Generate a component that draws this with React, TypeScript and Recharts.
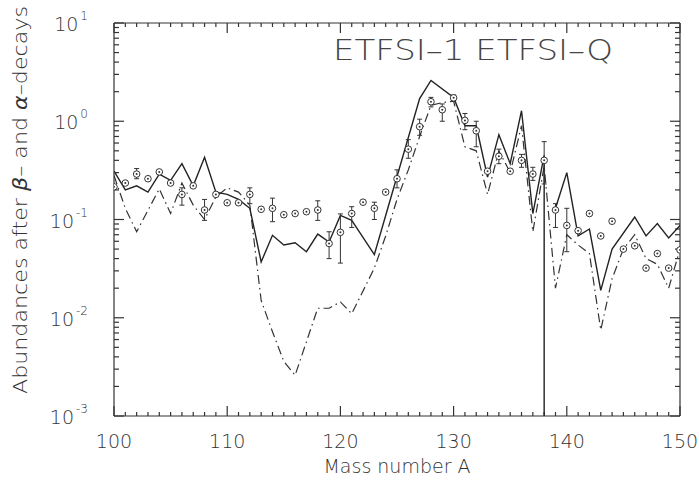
import React from 'react';
import { ComposedChart, Line, XAxis, YAxis, ReferenceLine } from 'recharts';

// ETFSI-1 (solid)
const solidA = [100,101,102,103,104,105,106,107,108,109,110,111,112,113,114,115,116,117,118,119,120,121,123,127,128,130,131,132,133,134,135,136,137,138,138,138,139,140,141,142,143,144,146,147,148,149,150];
const solidV = [0.31,0.20,0.22,0.19,0.29,0.25,0.37,0.22,0.43,0.19,0.18,0.16,0.13,0.037,0.069,0.055,0.058,0.047,0.071,0.059,0.11,0.098,0.044,1.7,2.6,1.75,0.9,0.9,0.27,0.73,0.37,1.28,0.115,0.45,0.001,null,0.13,0.30,0.068,0.08,0.019,0.05,0.106,0.068,0.091,0.065,0.087];

// ETFSI-Q (dash-dot)
const qA = [100,101,102,104,105,106,107,108,109,110,111,112,113,114,115,116,118,119,120,121,123,124,125,126,127,128,129,130,131,132,133,134,135,136,137,138,139,140,141,142,143,144,145,146,147,148,149,150];
const qV = [0.28,0.13,0.075,0.205,0.115,0.235,0.14,0.10,0.17,0.21,0.19,0.14,0.015,0.0072,0.0036,0.0026,0.0125,0.0125,0.0145,0.011,0.032,0.068,0.16,0.32,0.70,1.45,1.55,1.6,0.55,0.5,0.18,0.5,0.3,0.9,0.075,0.35,0.02,0.07,0.055,0.045,0.0075,0.025,0.05,0.07,0.04,0.035,0.02,0.05];

// observed abundances with error bars
const errA = [102,106,108,112,114,118,119,120,121,123,125,126,127,128,129,130,131,132,134,136,137,138,139,140];
const errV = [0.29,0.18,0.125,0.18,0.13,0.125,0.057,0.074,0.115,0.13,0.26,0.52,0.88,1.58,1.31,1.73,1.02,0.8,0.44,0.40,0.29,0.40,0.125,0.087];
const errLo = [0.26,0.14,0.098,0.145,0.095,0.098,0.04,0.036,0.083,0.1,0.21,0.42,0.72,1.4,1.0,1.6,0.82,0.55,0.37,0.34,0.25,0.23,0.083,0.047];
const errHi = [0.33,0.21,0.16,0.21,0.165,0.155,0.075,0.114,0.135,0.15,0.32,0.65,1.05,1.75,1.5,1.85,1.2,1.0,0.52,0.46,0.34,0.62,0.145,0.13];

// observed abundances without visible error bars
const ptA = [100,101,103,104,105,107,109,110,111,113,115,116,117,122,124,133,135,141,142,143,144,145,146,147,148,149,150];
const ptV = [0.215,0.235,0.26,0.305,0.235,0.22,0.18,0.148,0.148,0.127,0.112,0.115,0.12,0.15,0.19,0.31,0.31,0.077,0.115,0.068,0.096,0.05,0.054,0.032,0.045,0.032,0.049];

const xLabels = [100, 110, 120, 130, 140, 150];
const yMajor = [0.001, 0.01, 0.1, 1, 10];
const yExp = ['-3', '-2', '-1', '0', '1'];

const xTicks: number[] = [];
for (let a = 100; a <= 150; a++) xTicks.push(a);
const yTicks: number[] = [];
yMajor.forEach((m, i) => {
  yTicks.push(m);
  if (i < yMajor.length - 1) for (let k = 2; k <= 9; k++) yTicks.push(+(m * k).toPrecision(3));
});

const solidData = solidA.map((A, i) => ({ A, v: solidV[i] }));
const qData = qA.map((A, i) => ({ A, v: qV[i] }));
const pointData = [
  ...errA.map((A, i) => ({ A, v: errV[i] })),
  ...ptA.map((A, i) => ({ A, v: ptV[i] })),
].sort((a, b) => a.A - b.A);
const barData: { A: number; v: number | null }[] = [];
errA.forEach((A, i) => {
  barData.push({ A, v: errLo[i] });
  barData.push({ A, v: errHi[i] });
  barData.push({ A, v: null });
});

const INK = '#333';
const FONT = '"DejaVu Sans", "Liberation Sans", sans-serif';

const majorIndex = (v: number) => yMajor.findIndex((m) => Math.abs(m - v) / m < 1e-6);

const BottomLabel = (p: any) => {
  const v = p.payload.value;
  if (!xLabels.includes(v)) return <g />;
  return (
    <text x={p.x} y={p.y + 32} textAnchor="middle" fontSize={19} fill={INK} fontFamily={FONT} fontWeight={300}>
      {v}
    </text>
  );
};
const LeftLabel = (p: any) => {
  const idx = majorIndex(p.payload.value);
  if (idx < 0) return <g />;
  return (
    <text x={p.x - 26} y={p.y + 8} textAnchor="end" fontSize={19} fill={INK} fontFamily={FONT} fontWeight={300}>
      10
      <tspan dx={2} dy={-11} fontSize={12}>{yExp[idx]}</tspan>
    </text>
  );
};

// inward ticks on both ends of a reference line spanning the plot
const XTickPair = (len: number) => (p: any) => {
  if (p.x1 == null || isNaN(p.x1)) return <g />;
  const top = Math.min(p.y1, p.y2);
  const bot = Math.max(p.y1, p.y2);
  return (
    <g>
      <line x1={p.x1} y1={bot} x2={p.x1} y2={bot - len} stroke={INK} strokeWidth={1.2} />
      <line x1={p.x1} y1={top} x2={p.x1} y2={top + len} stroke={INK} strokeWidth={1.2} />
    </g>
  );
};
const YTickPair = (len: number) => (p: any) => {
  if (p.y1 == null || isNaN(p.y1)) return <g />;
  const l = Math.min(p.x1, p.x2);
  const r = Math.max(p.x1, p.x2);
  return (
    <g>
      <line x1={l} y1={p.y1} x2={l + len} y2={p.y1} stroke={INK} strokeWidth={1.2} />
      <line x1={r} y1={p.y1} x2={r - len} y2={p.y1} stroke={INK} strokeWidth={1.2} />
    </g>
  );
};
const xMajorShape = XTickPair(10);
const xMinorShape = XTickPair(4);
const yMajorShape = YTickPair(10);
const yMinorShape = YTickPair(5);

const Marker = (p: any) => {
  if (p.cx == null || p.cy == null || isNaN(p.cx) || isNaN(p.cy)) return <g key={p.key} />;
  return (
    <g key={p.key}>
      <circle cx={p.cx} cy={p.cy} r={3.3} fill="#fff" stroke={INK} strokeWidth={1} />
      <circle cx={p.cx} cy={p.cy} r={1} fill={INK} />
    </g>
  );
};
const Cap = (p: any) => {
  if (p.cx == null || p.cy == null || isNaN(p.cx) || isNaN(p.cy)) return <g key={p.key} />;
  return <line key={p.key} x1={p.cx - 2.5} y1={p.cy} x2={p.cx + 2.5} y2={p.cy} stroke={INK} strokeWidth={1} />;
};

export default function App() {
  return (
    <div style={{ position: 'absolute', left: 0, top: 0, width: 699, height: 480, background: '#fff' }}>
      <ComposedChart width={699} height={480} margin={{ top: 23, right: 19, bottom: 0, left: 0 }}>
        <XAxis xAxisId="b" dataKey="A" type="number" domain={[100, 150]} allowDataOverflow ticks={xTicks} interval={0} height={64} tickSize={0} tickMargin={0} tickLine={false} axisLine={{ stroke: INK, strokeWidth: 1.2 }} tick={BottomLabel} />
        <YAxis yAxisId="l" scale="log" type="number" domain={[0.001, 10]} allowDataOverflow ticks={yTicks} interval={0} width={114} tickSize={0} tickMargin={0} tickLine={false} axisLine={{ stroke: INK, strokeWidth: 1.2 }} tick={LeftLabel} />
        <ReferenceLine xAxisId="b" yAxisId="l" y={10} stroke={INK} strokeWidth={1.2} />
        <ReferenceLine xAxisId="b" yAxisId="l" x={150} stroke={INK} strokeWidth={1.2} />
        {xTicks.map((a) => (
          <ReferenceLine key={`xt${a}`} xAxisId="b" yAxisId="l" x={a} shape={a % 10 === 0 ? xMajorShape : xMinorShape} />
        ))}
        {yTicks.map((v) => (
          <ReferenceLine key={`yt${v}`} xAxisId="b" yAxisId="l" y={v} shape={majorIndex(v) >= 0 ? yMajorShape : yMinorShape} />
        ))}
        <Line xAxisId="b" yAxisId="l" data={qData} dataKey="v" stroke={INK} strokeWidth={1.2} strokeDasharray="9 4 1.5 4" dot={false} activeDot={false} isAnimationActive={false} />
        <Line xAxisId="b" yAxisId="l" data={solidData} dataKey="v" stroke="#222" strokeWidth={1.4} dot={false} activeDot={false} connectNulls={false} isAnimationActive={false} />
        <Line xAxisId="b" yAxisId="l" data={barData} dataKey="v" stroke={INK} strokeWidth={1} dot={Cap} activeDot={false} connectNulls={false} isAnimationActive={false} />
        <Line xAxisId="b" yAxisId="l" data={pointData} dataKey="v" stroke="none" strokeWidth={0} dot={Marker} activeDot={false} isAnimationActive={false} />
      </ComposedChart>
      <svg width={330} height={40} style={{ position: 'absolute', left: 320, top: 34, pointerEvents: 'none' }}>
        <text x={13} y={26} fontSize={29} fill="#444" fontFamily={FONT} fontWeight={200} textLength={280} lengthAdjust="spacingAndGlyphs">
          ETFSI–1 ETFSI–Q
        </text>
      </svg>
      <svg width={300} height={26} style={{ position: 'absolute', left: 247, top: 454, pointerEvents: 'none' }}>
        <text x={150} y={19} textAnchor="middle" fontSize={19} fill={INK} fontFamily={FONT} fontWeight={300}>
          Mass number A
        </text>
      </svg>
      <svg width={40} height={420} style={{ position: 'absolute', left: 0, top: 0, pointerEvents: 'none' }}>
        <text transform="translate(27,200) rotate(-90)" textAnchor="middle" fontSize={19} fill={INK} fontFamily={FONT} fontWeight={300} textLength={388} lengthAdjust="spacingAndGlyphs">
          Abundances after <tspan fontStyle="italic">β</tspan>– and <tspan fontStyle="italic">α</tspan>–decays
        </text>
      </svg>
    </div>
  );
}
